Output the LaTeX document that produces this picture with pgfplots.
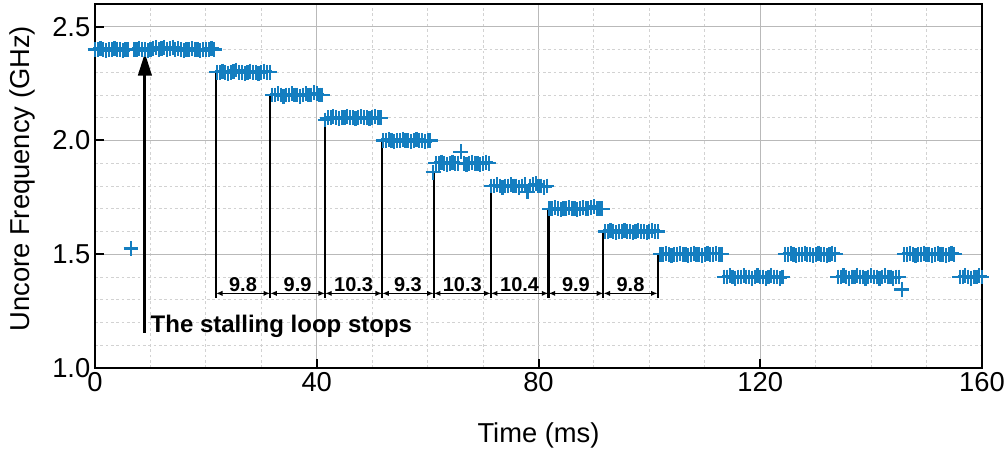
\documentclass[border=0pt]{standalone}
\usepackage{fontspec}
\setmainfont{Liberation Sans}
\usepackage{pgfplots}
\pgfplotsset{compat=1.18}
\usetikzlibrary{arrows.meta}
\definecolor{freqblue}{RGB}{20,126,192}
\begin{document}
\begin{tikzpicture}
\begin{axis}[
  at={(0,0)}, anchor=south west,
  scale only axis, width=665.25pt, height=273pt,
  xmin=0, xmax=160, ymin=1.0, ymax=2.6,
  xtick={0,40,80,120,160}, ytick={1.0,1.5,2.0,2.5},
  minor x tick num=3, minor y tick num=4,
  y tick label style={/pgf/number format/.cd, fixed, fixed zerofill, precision=1},
  /pgf/number format/assume math mode=true,
  tick label style={font=\fontsize{20.5}{24}\selectfont},
  label style={font=\fontsize{20.5}{24}\selectfont},
  xlabel={Time (ms)}, ylabel={Uncore Frequency (GHz)},
  xlabel style={at={(axis description cs:0.5,-0.186)}, anchor=center},
  ylabel style={at={(axis description cs:-0.0823,0.52)}, anchor=center},
  grid=both,
  major grid style={gray!55, line width=0.9pt},
  minor grid style={gray!35, line width=0.7pt, dash pattern=on 2pt off 2pt},
  tick pos=left, tick align=inside,
  major tick length=6.75pt, minor tick length=0pt,
  major tick style={black, line width=1.5pt},
  axis line style={black, line width=1.8pt},
]
% step boundaries
\draw[line width=1.7pt] (axis cs:21.8,2.30) -- (axis cs:21.8,1.307);
\draw[line width=1.7pt] (axis cs:31.6,2.20) -- (axis cs:31.6,1.307);
\draw[line width=1.7pt] (axis cs:41.5,2.10) -- (axis cs:41.5,1.307);
\draw[line width=1.7pt] (axis cs:51.8,2.00) -- (axis cs:51.8,1.307);
\draw[line width=1.7pt] (axis cs:61.1,1.86) -- (axis cs:61.1,1.307);
\draw[line width=1.7pt] (axis cs:71.4,1.80) -- (axis cs:71.4,1.307);
\draw[line width=1.7pt] (axis cs:81.8,1.70) -- (axis cs:81.8,1.307);
\draw[line width=1.7pt] (axis cs:91.7,1.60) -- (axis cs:91.7,1.307);
\draw[line width=1.7pt] (axis cs:101.5,1.50) -- (axis cs:101.5,1.307);
% step durations
\tikzset{dim/.style={line width=1pt, {Latex[length=5pt,width=4pt]}-{Latex[length=5pt,width=4pt]}},
         dimlbl/.style={anchor=base, inner sep=0pt, font=\bfseries\fontsize{15}{17}\selectfont}}
\draw[dim] (axis cs:21.8,1.328) -- (axis cs:31.6,1.328);
\draw[dim] (axis cs:31.6,1.328) -- (axis cs:41.5,1.328);
\draw[dim] (axis cs:41.5,1.328) -- (axis cs:51.8,1.328);
\draw[dim] (axis cs:51.8,1.328) -- (axis cs:61.1,1.328);
\draw[dim] (axis cs:61.1,1.328) -- (axis cs:71.4,1.328);
\draw[dim] (axis cs:71.4,1.328) -- (axis cs:81.8,1.328);
\draw[dim] (axis cs:81.8,1.328) -- (axis cs:91.7,1.328);
\draw[dim] (axis cs:91.7,1.328) -- (axis cs:101.5,1.328);
\node[dimlbl] at (axis cs:26.70,1.335) {9.8};
\node[dimlbl] at (axis cs:36.55,1.335) {9.9};
\node[dimlbl] at (axis cs:46.65,1.335) {10.3};
\node[dimlbl] at (axis cs:56.45,1.335) {9.3};
\node[dimlbl] at (axis cs:66.25,1.335) {10.3};
\node[dimlbl] at (axis cs:76.60,1.335) {10.4};
\node[dimlbl] at (axis cs:86.75,1.335) {9.9};
\node[dimlbl] at (axis cs:96.60,1.335) {9.8};
% stalling loop marker
\draw[line width=2.3pt, -{Triangle[length=17pt,width=10pt]}] (axis cs:9,1.155) -- (axis cs:9,2.385);
\node[anchor=base west, inner sep=0pt, font=\bfseries\fontsize{18}{20}\selectfont] at (axis cs:10.0,1.154) {The stalling loop stops};
% measured uncore frequency
\addplot[only marks, mark=+, mark size=5.6pt, color=freqblue, mark options={line width=1.65pt}] coordinates {
(0,2.40) (0.5,2.40) (1,2.405) (1.5,2.40) (2,2.395) (2.5,2.40) (3,2.40) (3.5,2.405) (4,2.40) (4.5,2.40)
(5,2.395) (5.5,2.40) (6,2.40) (6.5,1.525) (7,2.40) (7.5,2.40) (8,2.405) (8.5,2.40) (9,2.40) (9.5,2.395)
(10,2.40) (10.5,2.405) (11,2.41) (11.5,2.40) (12,2.405) (12.5,2.41) (13,2.40) (13.5,2.405) (14,2.41) (14.5,2.40)
(15,2.405) (15.5,2.40) (16,2.395) (16.5,2.40) (17,2.40) (17.5,2.405) (18,2.40) (18.5,2.40) (19,2.395) (19.5,2.40)
(20,2.40) (20.5,2.40) (21,2.405) (21.5,2.40)
(22,2.30) (22.5,2.30) (23,2.305) (23.5,2.30) (24,2.295) (24.5,2.30) (25,2.305) (25.5,2.31) (26,2.30) (26.5,2.30)
(27,2.295) (27.5,2.30) (28,2.305) (28.5,2.30) (29,2.30) (29.5,2.295) (30,2.30) (30.5,2.305) (31,2.30) (31.5,2.30)
(32,2.20) (32.5,2.20) (33,2.205) (33.5,2.20) (34,2.195) (34.5,2.20) (35,2.20) (35.5,2.205) (36,2.20) (36.5,2.20)
(37,2.195) (37.5,2.20) (38,2.205) (38.5,2.20) (39,2.20) (39.5,2.21) (40,2.205) (40.5,2.20) (41,2.20)
(41.5,2.09) (42,2.10) (42.5,2.10) (43,2.105) (43.5,2.10) (44,2.095) (44.5,2.10) (45,2.10) (45.5,2.105) (46,2.10)
(46.5,2.10) (47,2.095) (47.5,2.10) (48,2.105) (48.5,2.10) (49,2.10) (49.5,2.095) (50,2.10) (50.5,2.105) (51,2.10) (51.5,2.10)
(52,2.00) (52.5,2.00) (53,2.005) (53.5,2.00) (54,1.995) (54.5,2.00) (55,2.00) (55.5,2.005) (56,2.00) (56.5,2.00)
(57,1.995) (57.5,2.00) (58,2.005) (58.5,2.00) (59,2.00) (59.5,1.995) (60,2.00) (60.5,2.00)
(61,1.86)
(61.5,1.90) (62,1.90) (62.5,1.905) (63,1.90) (63.5,1.895) (64,1.90) (64.5,1.905) (65,1.90) (65.5,1.90) (66,1.95)
(66.5,1.90) (67,1.895) (67.5,1.90) (68,1.905) (68.5,1.90) (69,1.90) (69.5,1.895) (70,1.90) (70.5,1.905) (71,1.90)
(71.5,1.80) (72,1.80) (72.5,1.805) (73,1.80) (73.5,1.795) (74,1.80) (74.5,1.80) (75,1.805) (75.5,1.80) (76,1.80)
(76.5,1.795) (77,1.80) (77.5,1.805) (78,1.775) (78.5,1.80) (79,1.805) (79.5,1.81) (80,1.80) (80.5,1.80) (81,1.795) (81.5,1.80)
(82,1.70) (82.5,1.70) (83,1.705) (83.5,1.70) (84,1.695) (84.5,1.70) (85,1.70) (85.5,1.705) (86,1.70) (86.5,1.70)
(87,1.695) (87.5,1.70) (88,1.705) (88.5,1.70) (89,1.70) (89.5,1.705) (90,1.71) (90.5,1.70) (91,1.70) (91.5,1.70)
(92,1.60) (92.5,1.60) (93,1.605) (93.5,1.60) (94,1.595) (94.5,1.60) (95,1.60) (95.5,1.605) (96,1.60) (96.5,1.60)
(97,1.595) (97.5,1.60) (98,1.605) (98.5,1.60) (99,1.60) (99.5,1.595) (100,1.60) (100.5,1.605) (101,1.60) (101.5,1.60)
(102,1.50) (102.5,1.50) (103,1.505) (103.5,1.50) (104,1.495) (104.5,1.50) (105,1.50) (105.5,1.505) (106,1.50) (106.5,1.50)
(107,1.495) (107.5,1.50) (108,1.505) (108.5,1.50) (109,1.50) (109.5,1.495) (110,1.50) (110.5,1.505) (111,1.50) (111.5,1.50)
(112,1.505) (112.5,1.50) (113,1.50)
(113.5,1.40) (114,1.40) (114.5,1.405) (115,1.40) (115.5,1.395) (116,1.40) (116.5,1.40) (117,1.405) (117.5,1.40) (118,1.40)
(118.5,1.395) (119,1.40) (119.5,1.405) (120,1.40) (120.5,1.40) (121,1.395) (121.5,1.40) (122,1.405) (122.5,1.40) (123,1.40)
(123.5,1.395) (124,1.40)
(124.5,1.50) (125,1.50) (125.5,1.505) (126,1.50) (126.5,1.495) (127,1.50) (127.5,1.50) (128,1.505) (128.5,1.50) (129,1.50)
(129.5,1.495) (130,1.50) (130.5,1.505) (131,1.50) (131.5,1.50) (132,1.495) (132.5,1.50) (133,1.505) (133.5,1.50)
(134,1.40) (134.5,1.40) (135,1.405) (135.5,1.40) (136,1.395) (136.5,1.40) (137,1.40) (137.5,1.405) (138,1.40) (138.5,1.40)
(139,1.395) (139.5,1.40) (140,1.405) (140.5,1.40) (141,1.40) (141.5,1.395) (142,1.40) (142.5,1.405) (143,1.40) (143.5,1.40)
(144,1.395) (144.5,1.40) (145,1.40)
(145.5,1.345)
(146,1.50) (146.5,1.50) (147,1.505) (147.5,1.50) (148,1.495) (148.5,1.50) (149,1.50) (149.5,1.505) (150,1.50) (150.5,1.50)
(151,1.495) (151.5,1.50) (152,1.505) (152.5,1.50) (153,1.50) (153.5,1.495) (154,1.50) (154.5,1.505) (155,1.50)
(156,1.40) (156.5,1.40) (157,1.405) (157.5,1.40) (158,1.395) (158.5,1.40) (159,1.40) (159.5,1.405) (160,1.40)
};
\end{axis}
\pgfresetboundingbox
\path[use as bounding box] (-71.25pt,-63pt) rectangle (684.75pt,276pt);
\end{tikzpicture}
\end{document}
